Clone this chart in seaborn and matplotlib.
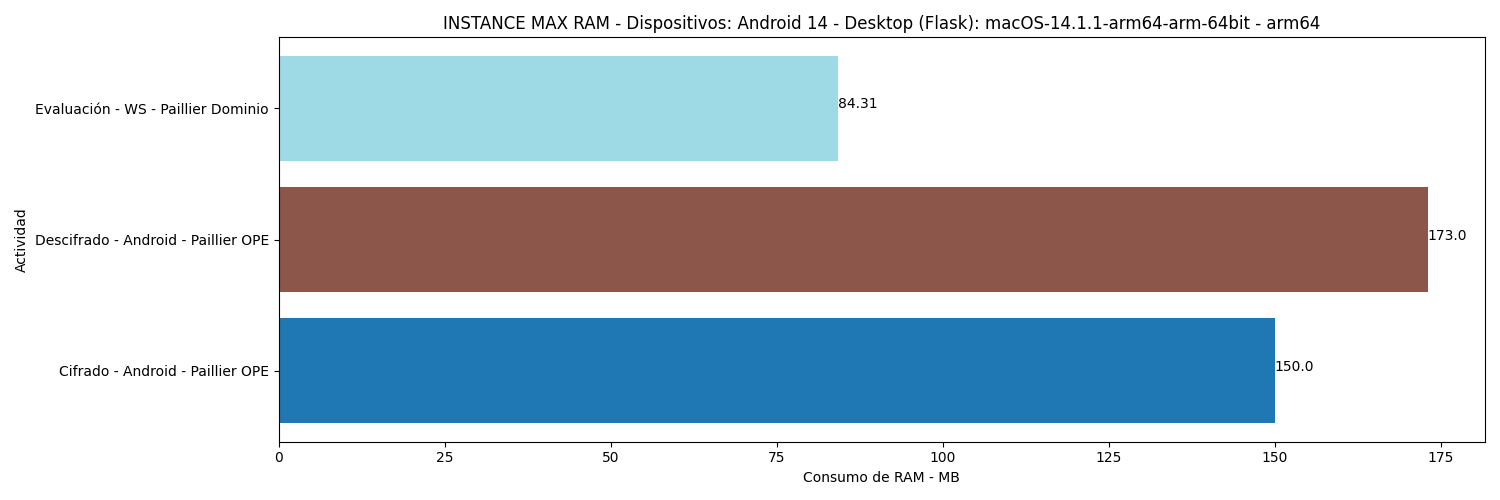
import matplotlib
matplotlib.use("Agg")
import matplotlib.pyplot as plt
import seaborn as sns
import pandas as pd
import numpy as np

categories = ["Evaluación - WS - Paillier Dominio",
              "Descifrado - Android - Paillier OPE",
              "Cifrado - Android - Paillier OPE"]
values = [84.31, 173.0, 150.0]
colors = ["#9edae5", "#8c564b", "#1f77b4"]

df = pd.DataFrame({"Actividad": categories, "RAM": values})

fig, ax = plt.subplots(figsize=(15, 5), dpi=100)
sns.barplot(data=df, x="RAM", y="Actividad", hue="Actividad", palette=colors,
            orient="h", width=0.8, legend=False, ax=ax, saturation=1)
for i, v in enumerate(values):
    ax.text(v, i, str(v), fontsize=10)
ax.set_ylim(2.54, -0.54)
ax.set_xlim(0, max(values) * 1.05)
ax.set_xlabel("Consumo de RAM - MB")
ax.set_ylabel("Actividad")
ax.set_title("INSTANCE MAX RAM - Dispositivos: Android 14 - Desktop (Flask): macOS-14.1.1-arm64-arm-64bit - arm64")
fig.tight_layout()
fig.savefig("out.png")
